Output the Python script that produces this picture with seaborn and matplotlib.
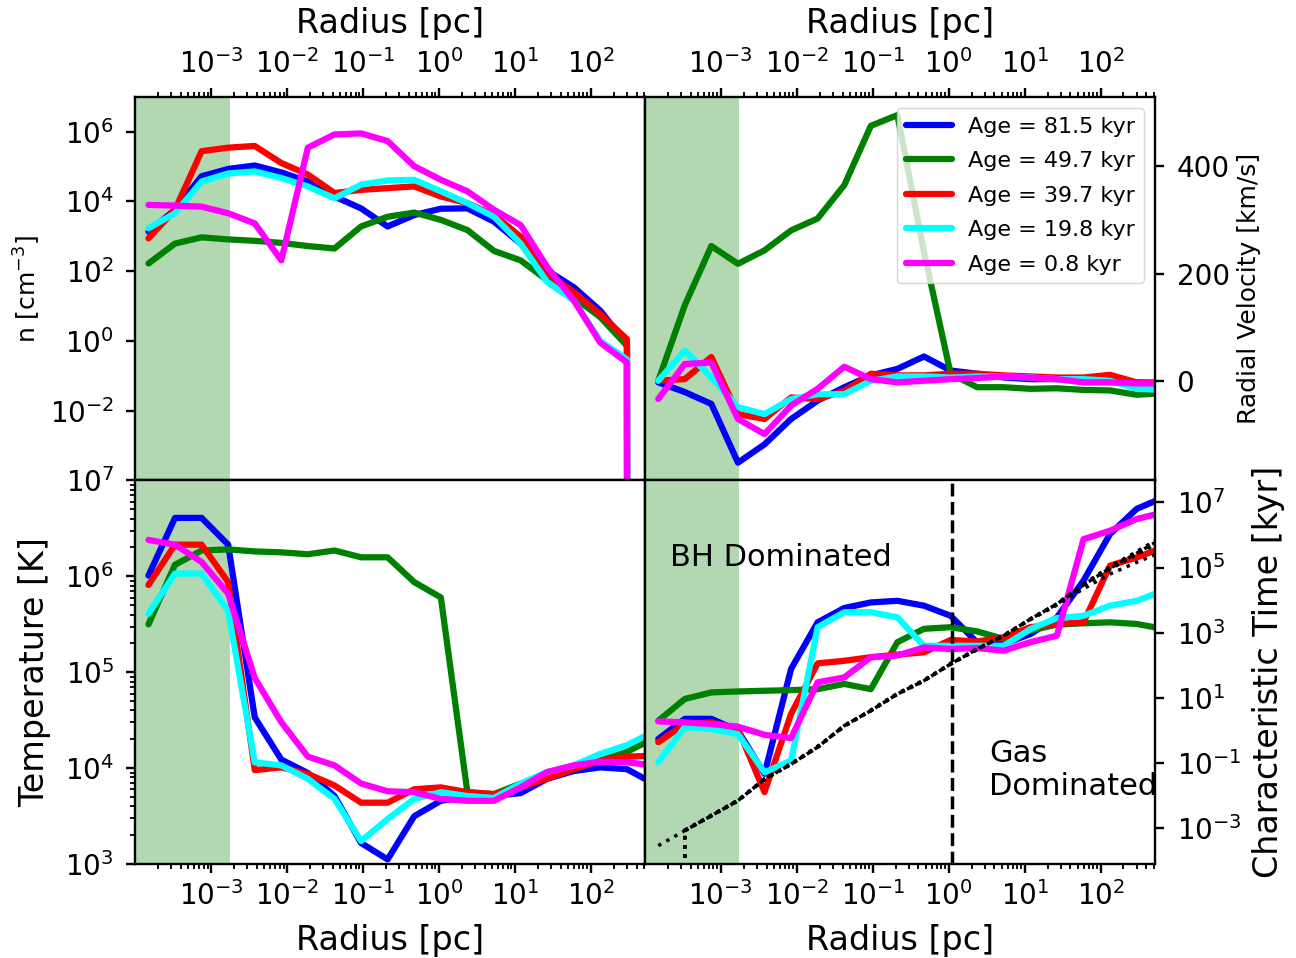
import numpy as np
import matplotlib
matplotlib.use("Agg")
import matplotlib.pyplot as plt
import seaborn as sns
from matplotlib.ticker import (LogLocator, NullLocator, FixedLocator,
                               LogFormatterSciNotation, NullFormatter)

# ---------------- data ----------------
radius_pc = [1.50e-4, 3.35e-4, 7.50e-4, 1.68e-3, 3.76e-3, 8.41e-3, 1.88e-2, 4.22e-2,
             9.44e-2, 0.211, 0.473, 1.06, 2.37, 5.31, 11.9, 26.6, 59.6, 133.0, 299.0, 668.0]

ages = ["81.5", "49.7", "39.7", "19.8", "0.8"]
colors = ["blue", "green", "red", "cyan", "magenta"]

dens_815 = [1.35e3, 5.75e3, 5.25e4, 8.51e4, 1.07e5, 6.76e4, 3.72e4, 1.38e4, 6.31e3, 1.91e3,
            4.07e3, 6.17e3, 6.31e3, 2.63e3, 617, 105, 34.7, 7.41, 0.813, 0.0]
dens_497 = [166, 617, 933, 813, 741, 646, 525, 447, 1.91e3, 3.63e3,
            4.79e3, 2.95e3, 1.51e3, 380, 204, 55.0, 17.8, 4.79, 0.724, 0.0]
dens_397 = [870, 5.75e3, 2.75e5, 3.47e5, 3.89e5, 1.26e5, 5.89e4, 1.74e4, 2.14e4, 2.40e4,
            2.69e4, 1.38e4, 8.91e3, 4.07e3, 977, 85.1, 25.1, 5.89, 1.12, 0.0]
dens_198 = [1.70e3, 4.57e3, 3.72e4, 6.31e4, 7.24e4, 4.68e4, 2.69e4, 1.23e4, 3.02e4, 3.98e4,
            4.17e4, 1.95e4, 8.91e3, 3.63e3, 617, 49.0, 14.5, 1.0, 0.295, 0.0]
dens_08 = [7.94e3, 7.59e3, 7.08e3, 4.57e3, 2.34e3, 204, 3.47e5, 8.32e5, 8.91e5, 5.37e5,
           1.02e5, 4.17e4, 1.95e4, 5.75e3, 2.09e3, 132, 14.5, 0.891, 0.240, 0.0]

vel_815 = [-2, -20, -42, -151, -117, -70, -36, -11, 11, 23, 46, 20, 14, 7, 4, 4, 1, 2, -2, -5]
vel_497 = [1, 141, 251, 218, 243, 280, 302, 364, 474, 494, 240, 14, -11, -11, -14, -13, -16, -17, -25, -22]
vel_397 = [1, 4, 45, -61, -70, -30, -33, -18, 14, 11, 11, 14, 14, 11, 9, 7, 7, 12, -2, -2]
vel_198 = [1, 57, 7, -48, -61, -33, -24, -24, 1, 9, 9, 7, 9, 9, 7, 4, 4, 1, -14, -16]
vel_08 = [-33, 32, 35, -70, -98, -45, -14, 27, 4, -2, 1, 4, 6, 9, 7, 4, -2, -2, -4, -4]

temp_815 = [1.02e6, 4.07e6, 4.07e6, 2.14e6, 3.39e4, 1.23e4, 8.91e3, 5.13e3, 1.66e3, 1.12e3,
            3.16e3, 4.57e3, 5.01e3, 5.13e3, 5.50e3, 7.76e3, 9.33e3, 1.02e4, 9.77e3, 6.92e3]
temp_497 = [3.16e5, 1.32e6, 1.86e6, 1.91e6, 1.82e6, 1.78e6, 1.70e6, 1.86e6, 1.58e6, 1.58e6,
            8.71e5, 6.03e5, 5.62e3, 5.37e3, 6.92e3, 8.32e3, 9.77e3, 1.20e4, 1.48e4, 2.04e4]
temp_397 = [8.13e5, 2.14e6, 2.14e6, 8.71e5, 9.55e3, 1.02e4, 8.71e3, 6.61e3, 4.37e3, 4.37e3,
            6.03e3, 6.31e3, 5.62e3, 5.37e3, 6.31e3, 7.76e3, 9.77e3, 1.20e4, 1.32e4, 1.35e4]
temp_198 = [4.07e5, 1.07e6, 1.07e6, 4.37e5, 1.15e4, 1.07e4, 7.76e3, 4.79e3, 1.74e3, 2.95e3,
            4.79e3, 5.62e3, 5.13e3, 4.90e3, 6.92e3, 9.12e3, 1.07e4, 1.41e4, 1.74e4, 2.40e4]
temp_08 = [2.40e6, 2.14e6, 1.41e6, 6.61e5, 8.71e4, 3.02e4, 1.32e4, 1.07e4, 6.92e3, 5.75e3,
           5.62e3, 4.79e3, 4.57e3, 4.57e3, 6.31e3, 9.12e3, 1.07e4, 1.17e4, 1.15e4, 1.07e4]

tchar_815 = [0.55, 2.29, 2.29, 1.0, 0.047, 77.6, 2.09e3, 5.75e3, 8.51e3, 9.55e3,
             6.76e3, 3.31e3, 501, 447, 912, 2.95e3, 3.98e4, 1.07e6, 6.31e6, 1.41e7]
tchar_497 = [2.0, 9.33, 14.8, 15.8, 16.6, 17.4, 18.6, 26.9, 18.6, 513,
             1.32e3, 1.48e3, 1.10e3, 646, 1.17e3, 1.78e3, 1.95e3, 2.09e3, 1.86e3, 1.32e3]
tchar_397 = [0.44, 1.58, 1.78, 1.12, 0.0129, 3.24, 115, 138, 178, 214,
             251, 603, 537, 724, 1.48e3, 1.86e3, 2.09e3, 1.15e5, 2.04e5, 4.17e5]
tchar_198 = [0.107, 1.26, 1.12, 0.776, 0.0525, 0.120, 1.48e3, 4.27e3, 4.27e3, 2.95e3,
             398, 398, 398, 398, 1.29e3, 2.82e3, 3.31e3, 6.76e3, 9.55e3, 1.95e4]
tchar_08 = [1.91, 1.78, 1.58, 1.32, 0.741, 0.589, 30.2, 42.7, 178, 200,
            355, 316, 339, 282, 513, 813, 7.41e5, 1.35e6, 3.09e6, 4.90e6]

# free-fall times (dotted black)
tff_815 = [0.0, 8.51e-4, 2.45e-3, 7.08e-3, 3.24e-2, 9.33e-2, 0.309, 1.41, 4.07, 13.2,
           33.9, 110, 316, 813, 2.63e3, 7.59e3, 3.09e4, 1.02e5, 2.95e5, 8.91e5]
tff_497 = [2.95e-4, 8.51e-4, 2.45e-3, 7.08e-3, 3.24e-2, 9.33e-2, 0.309, 1.41, 4.07, 13.2,
           33.9, 110, 316, 813, 2.63e3, 7.59e3, 2.95e4, 9.55e4, 2.75e5, 8.13e5]
tff_397 = [0.0, 8.91e-4, 2.51e-3, 7.41e-3, 3.16e-2, 9.55e-2, 0.331, 1.32, 4.27, 13.8,
           35.5, 112, 302, 851, 2.51e3, 7.08e3, 2.24e4, 6.31e4, 1.45e5, 3.16e5]
tff_198 = [0.0, 8.71e-4, 2.40e-3, 7.24e-3, 3.31e-2, 9.12e-2, 0.316, 1.38, 4.17, 13.5,
           34.7, 107, 309, 832, 2.57e3, 7.41e3, 2.82e4, 8.91e4, 2.51e5, 7.08e5]
tff_08 = [0.0, 8.32e-4, 2.51e-3, 6.92e-3, 3.16e-2, 9.77e-2, 0.302, 1.45, 3.98, 12.9,
          33.1, 115, 324, 794, 2.69e3, 7.76e3, 3.16e4, 1.05e5, 3.09e5, 9.33e5]

bh_radius_pc = 1.75e-3
gas_radius_pc = 1.1

dens = [dens_815, dens_497, dens_397, dens_198, dens_08]
vel = [vel_815, vel_497, vel_397, vel_198, vel_08]
temp = [temp_815, temp_497, temp_397, temp_198, temp_08]
tchar = [tchar_815, tchar_497, tchar_397, tchar_198, tchar_08]
tff = [tff_815, tff_497, tff_397, tff_198, tff_08]

# ---------------- style ----------------
sns.set_style("ticks")
plt.rcParams['font.family'] = ['DejaVu Sans']
plt.rcParams.update({
    'axes.edgecolor': 'black', 'axes.labelcolor': 'black', 'text.color': 'black',
    'xtick.color': 'black', 'ytick.color': 'black',
    'axes.linewidth': 1.7,
    'xtick.major.width': 1.7, 'ytick.major.width': 1.7,
    'xtick.minor.width': 1.3, 'ytick.minor.width': 1.3,
    'xtick.major.size': 6.5, 'ytick.major.size': 6.5,
    'xtick.minor.size': 3.5, 'ytick.minor.size': 3.5,
    'xtick.major.pad': 6, 'xtick.minor.pad': 6,
    'ytick.major.pad': 9, 'ytick.minor.pad': 9,
    'xtick.labelsize': 20, 'ytick.labelsize': 20,
    'xtick.direction': 'out', 'ytick.direction': 'out',
})

fig = plt.figure(figsize=(12.96, 9.58), dpi=100)
axs = fig.subplots(2, 2)
fig.subplots_adjust(left=0.1045, right=0.8912, bottom=0.098, top=0.899, wspace=0, hspace=0)
ax_n, ax_v = axs[0]
ax_T, ax_t = axs[1]

for ax in axs.flat:
    ax.axvspan(1e-5, bh_radius_pc, color='green', alpha=0.3, lw=0, zorder=0)

for ax, block in [(ax_n, dens), (ax_v, vel), (ax_T, temp), (ax_t, tchar)]:
    for age, col, vals in zip(ages, colors, block):
        sns.lineplot(x=radius_pc, y=vals, ax=ax, color=col, linewidth=4.5,
                     label=f"Age = {age} kyr", estimator=None, sort=False,
                     legend=False)

for vals in tff:
    sns.lineplot(x=radius_pc, y=vals, ax=ax_t, color='black', linewidth=2.5,
                 linestyle=':', estimator=None, sort=False, legend=False, zorder=5)

ax_t.axvline(gas_radius_pc, color='black', ls='--', lw=2.5, zorder=6)

for ax in axs.flat:
    ax.set_xscale('log')
    ax.set_xlim(1.01e-4, 520)
    ax.xaxis.set_major_locator(LogLocator(base=10, numticks=20))
    ax.xaxis.set_minor_locator(LogLocator(base=10, subs=np.arange(2, 10), numticks=20))
    ax.xaxis.set_minor_formatter(NullFormatter())

for ax in (ax_n, ax_v):
    ax.xaxis.tick_top()
    ax.xaxis.set_label_position('top')
    ax.set_xlabel('Radius [pc]', fontsize=24, labelpad=12)
for ax in (ax_T, ax_t):
    ax.set_xlabel('Radius [pc]', fontsize=24, labelpad=9)

# density
ax_n.set_yscale('log')
ax_n.set_ylim(1e-4, 1e7)
ax_n.yaxis.set_major_locator(FixedLocator([1e-2, 1e0, 1e2, 1e4, 1e6]))
ax_n.yaxis.set_major_formatter(LogFormatterSciNotation())
ax_n.yaxis.set_minor_locator(NullLocator())
ax_n.set_ylabel('n [cm$^{-3}$]', fontsize=18, labelpad=5)

# temperature
ax_T.set_yscale('log')
ax_T.set_ylim(1e3, 1e7)
ax_T.yaxis.set_minor_formatter(NullFormatter())
ax_T.set_ylabel('Temperature [K]', fontsize=24, labelpad=10)

# velocity
ax_v.set_ylim(-184, 528)
ax_v.yaxis.tick_right()
ax_v.yaxis.set_label_position('right')
ax_v.set_yticks([0, 200, 400])
ax_v.set_ylabel('Radial Velocity [km/s]', fontsize=18, labelpad=5)
ax_v.legend(loc='upper right', fontsize=16, handlelength=2.1, handletextpad=0.7,
            labelspacing=0.65)

# characteristic time
ax_t.set_yscale('log')
ax_t.set_ylim(8e-5, 4.7e7)
ax_t.yaxis.tick_right()
ax_t.yaxis.set_label_position('right')
ax_t.yaxis.set_major_locator(FixedLocator([1e-3, 1e-1, 1e1, 1e3, 1e5, 1e7]))
ax_t.yaxis.set_major_formatter(LogFormatterSciNotation())
ax_t.yaxis.set_minor_locator(NullLocator())
ax_t.set_ylabel('Characteristic Time [kyr]', fontsize=24, labelpad=8)

ax_t.text(0.048, 0.80, 'BH Dominated', transform=ax_t.transAxes, fontsize=22, va='center', ha='left')
ax_t.text(0.675, 0.245, 'Gas\nDominated', transform=ax_t.transAxes, fontsize=22, va='center', ha='left')

fig.savefig('out.png', dpi=100)
